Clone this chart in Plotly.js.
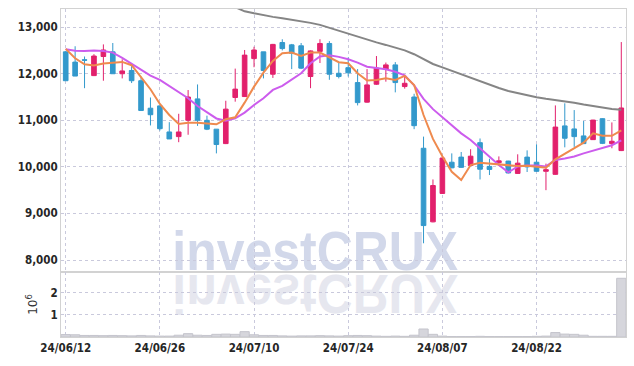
<!DOCTYPE html>
<html>
<head>
<meta charset="utf-8">
<script src="https://cdn.plot.ly/plotly-3.0.1.min.js"></script>
<style>html,body{margin:0;padding:0;background:#fff;}#chart{width:634px;height:366px;}</style>
</head>
<body>
<div id="chart"></div>
<script>
const dates = [
"2024-06-12","2024-06-13","2024-06-14","2024-06-17","2024-06-18","2024-06-19","2024-06-20","2024-06-21","2024-06-24","2024-06-25",
"2024-06-26","2024-06-27","2024-06-28","2024-07-01","2024-07-02","2024-07-03","2024-07-04","2024-07-05","2024-07-08","2024-07-09",
"2024-07-10","2024-07-11","2024-07-12","2024-07-15","2024-07-16","2024-07-17","2024-07-18","2024-07-19","2024-07-22","2024-07-23",
"2024-07-24","2024-07-25","2024-07-26","2024-07-29","2024-07-30","2024-07-31","2024-08-01","2024-08-02","2024-08-05","2024-08-06",
"2024-08-07","2024-08-08","2024-08-09","2024-08-12","2024-08-13","2024-08-14","2024-08-16","2024-08-19","2024-08-20","2024-08-21",
"2024-08-22","2024-08-23","2024-08-26","2024-08-27","2024-08-28","2024-08-29","2024-08-30","2024-09-02","2024-09-03","2024-09-04"];

const openP = [12470,12250,12300,11960,12370,12470,12000,12070,11850,11260,
11310,10750,10650,11000,11460,11000,10810,10500,11490,11510,
12325,12470,11990,12670,12620,12600,11940,12480,12650,12010,
12130,11810,11390,11775,12100,12190,11725,11500,10400,8820,
9430,10100,10210,10030,10520,10010,10090,10125,9860,10210,
10100,9905,9840,10880,10815,10665,10585,11035,10500,10350];
const highP = [12480,12590,12370,12420,12630,12660,12310,12170,11940,11490,
11310,10960,11140,11650,11770,11100,10810,11420,12110,12510,
12580,12470,12640,12740,12640,12660,12500,12740,12700,12230,
12350,12100,12100,12380,12240,12250,11940,11570,10650,9730,
10220,10290,10320,10380,10610,10175,10225,10130,10270,10355,
10485,10070,11320,11365,11220,10985,11010,11045,10955,12680];
const lowP = [11850,11950,11690,11950,11850,12000,11900,11800,11200,10890,
10780,10600,10530,10690,10880,10790,10290,10490,11400,11500,
12140,11900,11910,12500,12100,12100,11690,12230,11870,11900,
11940,11320,11380,11760,11830,11600,11680,10810,8360,8810,
9420,9970,9980,10030,9730,9825,10020,9860,9850,9890,
9890,9500,9830,10420,10430,10490,10580,10490,10400,10340];
const closeP = [11850,11950,12290,12380,12510,12000,12060,11850,11210,11120,
10820,10600,10750,11500,11000,10810,10480,11240,11670,12400,
12510,12070,12630,12540,12440,12120,12490,12650,11990,11940,
12020,11380,11760,12120,12190,11810,11795,10885,8740,9600,
10190,9980,9990,10230,9950,9945,10130,9870,10080,10000,
9905,9940,10855,10615,10650,10500,11005,10505,10550,11265];

const ma5 = [12534,12333,12204,12175,12218,12240,12254,12183,11925,11667,
11351,11114,10921,10949,10950,10936,10914,11022,11065,11379,
11723,12024,12276,12441,12454,12383,12454,12454,12355,12247,
12226,12011,11853,11867,11903,11867,11953,11760,11114,10600,
10230,9896,9717,10039,10089,10075,10061,10046,10018,10025,
10003,9982,10162,10276,10398,10519,10721,10668,10666,10785];
const ma20 = [12527,12495,12490,12498,12490,12454,12340,12215,12080,11960,
11867,11738,11594,11474,11308,11170,11040,10992,11043,11165,
11330,11474,11652,11738,11867,12011,12226,12370,12395,12362,
12310,12240,12150,12120,12097,12043,11965,11750,11460,11240,
11060,10890,10720,10577,10398,10218,10039,9882,10010,10030,
10030,10010,10150,10180,10225,10290,10350,10405,10465,10570];
const ma60 = [14300,14260,14220,14180,14140,14100,14050,14000,13950,13900,
13850,13800,13750,13700,13650,13600,13550,13490,13430,13340,
13297,13254,13221,13189,13161,13135,13092,13049,12985,12920,
12856,12785,12727,12673,12619,12555,12501,12419,12307,12210,
12136,12060,11985,11910,11835,11760,11695,11630,11581,11538,
11497,11463,11437,11409,11379,11340,11308,11276,11243,11228];

const volume = [110000,100000,70000,70000,60000,70000,60000,50000,70000,50000,
40000,40000,80000,150000,80000,70000,120000,130000,120000,240000,
100000,70000,70000,50000,40000,50000,50000,60000,50000,40000,
60000,70000,60000,40000,30000,40000,30000,80000,360000,120000,
40000,20000,20000,20000,30000,20000,20000,20000,20000,20000,
30000,40000,200000,130000,120000,80000,30000,30000,30000,2640000];

const tickIdx = [0,10,20,30,40,50];
const tickLabels = ["24/06/12","24/06/26","24/07/10","24/07/24","24/08/07","24/08/22"];
const priceTicks = [8000,9000,10000,11000,12000,13000];
const volTicks = [1000000,2000000];
const volTickLabels = ["1","2"];
const watermark = "investCRUX";

const tickFont = {family:"DejaVu Sans Condensed", size:11.5, weight:"bold", color:"#262626"};
const gridC = "#c9c9dc";
const lineC = "#d2d2d2";

const traces = [
  {type:"candlestick", x:dates, open:openP, high:highP, low:lowP, close:closeP,
   xaxis:"x", yaxis:"y",
   increasing:{line:{color:"#e2206c", width:1}, fillcolor:"#e2206c"},
   decreasing:{line:{color:"#3399cc", width:1}, fillcolor:"#3399cc"},
   whiskerwidth:0, hoverinfo:"skip"},
  {type:"scatter", mode:"lines", x:dates, y:ma60, line:{color:"#858585", width:2}, xaxis:"x", yaxis:"y", hoverinfo:"skip"},
  {type:"scatter", mode:"lines", x:dates, y:ma20, line:{color:"#cc5ced", width:2}, xaxis:"x", yaxis:"y", hoverinfo:"skip"},
  {type:"scatter", mode:"lines", x:dates, y:ma5, line:{color:"#ef8a4e", width:2}, xaxis:"x", yaxis:"y", hoverinfo:"skip"},
  {type:"bar", x:dates, y:volume, xaxis:"x", yaxis:"y2",
   marker:{color:"#d6d6dc", line:{color:"#c4c4cc", width:1}}, hoverinfo:"skip"}
];

const layout = {
  width:634, height:366,
  margin:{l:61, r:8, t:9, b:29},
  paper_bgcolor:"#fff", plot_bgcolor:"rgba(0,0,0,0)",
  showlegend:false, bargap:0.02,
  xaxis:{type:"category", range:[-0.5,59.5], anchor:"y2",
    tickvals:tickIdx.map(i=>dates[i]), ticktext:tickLabels,
    showgrid:true, griddash:"dot", gridcolor:gridC, gridwidth:1,
    showline:true, linecolor:lineC, mirror:"all", ticks:"",
    tickfont:tickFont, rangeslider:{visible:false}, fixedrange:true},
  yaxis:{domain:[0.198,1], range:[7742,13390], tickvals:priceTicks, tickformat:",",
    showgrid:true, griddash:"dot", gridcolor:gridC, gridwidth:1, zeroline:false,
    showline:true, linecolor:lineC, mirror:true, ticks:"", tickfont:tickFont},
  yaxis2:{domain:[0,0.198], range:[0,2920000], tickvals:volTicks, ticktext:volTickLabels,
    showgrid:true, griddash:"dot", gridcolor:gridC, gridwidth:1, zeroline:false,
    showline:true, linecolor:lineC, mirror:true, ticks:"", tickfont:tickFont,
    title:{text:"10<sup>6</sup>", font:{family:"DejaVu Sans", size:12, color:"#333"}, standoff:10}},
  annotations:[
    {text:watermark, xref:"paper", yref:"paper", x:0.4496, y:0.198, xanchor:"center", yanchor:"bottom", yshift:-12,
     showarrow:false, font:{family:"Liberation Sans", size:56, weight:"bold", color:"#d2d8ea"}},
    {text:watermark, xref:"paper", yref:"paper", x:0.4496, y:0.198, xanchor:"center", yanchor:"bottom", yshift:-12,
     showarrow:false, font:{family:"Liberation Sans", size:56, weight:"bold", color:"#e6e7ef"}}
  ]
};

Plotly.newPlot("chart", traces, layout, {displayModeBar:false, staticPlot:true}).then(function(gd){
  const below = gd.querySelector(".layer-below");
  const anns = gd.querySelectorAll(".annotation");
  if (below) { anns.forEach(a => below.appendChild(a)); }
  let sx = 0.854;
  const t = anns[0] && anns[0].querySelector("text");
  if (t) { const w = t.getBBox().width; if (w > 0) sx = 286 / w; }
  const cx = 315, tx = cx * (1 - sx);
  if (anns[0]) anns[0].setAttribute("transform", "matrix(" + sx + ",0,0,1," + tx + ",0)");
  if (anns[1]) anns[1].setAttribute("transform", "matrix(" + sx + ",0,0,-1," + tx + ",545)");
});
</script>
</body>
</html>
